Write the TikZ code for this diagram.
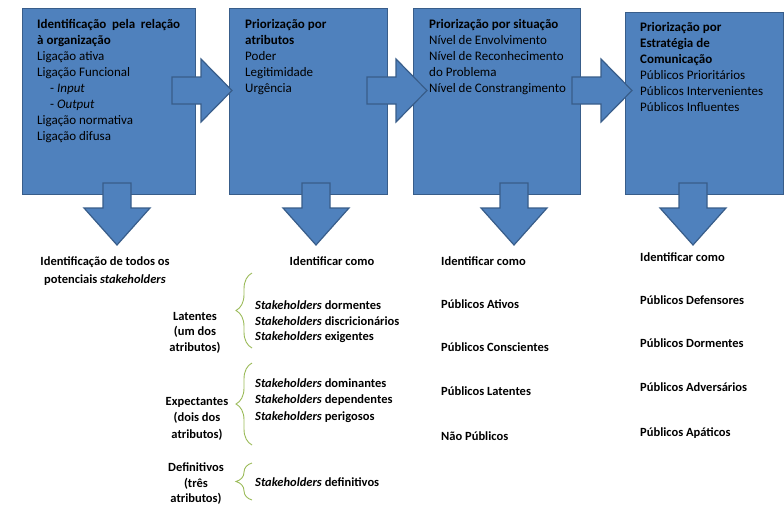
\documentclass[tikz,border=0pt]{standalone}
\usepackage{fontspec}
\setmainfont{Carlito}
\usetikzlibrary{positioning,decorations.pathreplacing}
\definecolor{boxblue}{RGB}{79,129,189}
\definecolor{boxedge}{RGB}{56,93,138}
\definecolor{bracegreen}{RGB}{155,187,89}

\begin{document}
\begin{tikzpicture}[x=1pt, y=-1pt,
    bluebox/.style={draw=boxedge, fill=boxblue, line width=1.2pt, inner sep=0pt, anchor=north west},
    boxtext/.style={inner sep=0pt, align=left, font=\fontsize{13}{16}\selectfont},
    blockarrow/.style={draw=boxedge, fill=boxblue, line width=1.2pt, line join=miter},
    lowtext/.style={inner sep=0pt, font=\fontsize{12.5}{15.5}\selectfont\bfseries},
    curly/.style={draw=bracegreen, line width=0.9pt, decorate, decoration={brace, amplitude=16pt}}]

\useasboundingbox (0,0) rectangle (784,507);

% caixas
\node[bluebox, minimum width=173pt, minimum height=186pt] (ident) at (22,8) {};
\node[bluebox, minimum width=158pt, minimum height=186pt] (atrib) at (229,8) {};
\node[bluebox, minimum width=167pt, minimum height=186pt] (situ) at (413,8) {};
\node[bluebox, minimum width=158pt, minimum height=182pt] (estr) at (625,12) {};

% textos das caixas
\node[boxtext, text width=143pt, align=justify, below right=11pt and 15pt of ident.north west] (identtxt)
  {\textbf{Identificação pela relação à organização}\\ Ligação ativa\\ Ligação Funcional\\
   \hspace*{13pt}- \textit{Input}\\ \hspace*{13pt}- \textit{Output}\\ Ligação normativa\\ Ligação difusa};
\node[boxtext, below right=11pt and 16pt of atrib.north west] (atribtxt)
  {\textbf{Priorização por}\\ \textbf{atributos}\\ Poder\\ Legitimidade\\ Urgência};
\node[boxtext, below right=11pt and 16pt of situ.north west] (situtxt)
  {\textbf{Priorização por situação}\\ Nível de Envolvimento\\ Nível de Reconhecimento\\ do Problema\\ Nível de Constrangimento};
\node[boxtext, below right=10pt and 15pt of estr.north west] (estrtxt)
  {\textbf{Priorização por}\\ \textbf{Estratégia de}\\ \textbf{Comunicação}\\ Públicos Prioritários\\ Públicos Intervenientes\\ Públicos Influentes};

% setas para a direita
\foreach \sx/\tx in {172/232, 367/427, 572/632}
  \draw[blockarrow] (\sx,77) -- ({\tx-31},77) -- ({\tx-31},59) -- (\tx,90.5)
    -- ({\tx-31},122) -- ({\tx-31},104) -- (\sx,104) -- cycle;

% setas para baixo
\foreach \c in {117,316,514,693}
  \draw[blockarrow] ({\c-14},183) -- ({\c+14},183) -- ({\c+14},208) -- ({\c+33},208)
    -- (\c,245) -- ({\c-33},208) -- ({\c-14},208) -- cycle;

% textos de baixo
\node[lowtext, align=center, anchor=north] (todos) at (105,257)
  {Identificação de todos os\\[2.5pt] potenciais \textit{stakeholders}};
\node[lowtext, anchor=base] (como2) at (332,265) {Identificar como};
\node[lowtext, anchor=base west] (como3) at (441,265) {Identificar como};
\node[lowtext, anchor=base west] (como4) at (640,261) {Identificar como};

\foreach \y/\t [count=\i] in {308/Públicos Ativos, 351/Públicos Conscientes, 395/Públicos Latentes, 440/Não Públicos}
  \node[lowtext, anchor=base west] (sit\i) at (441,\y) {\t};
\foreach \y/\t [count=\i] in {304/Públicos Defensores, 347/Públicos Dormentes, 391/Públicos Adversários, 436/Públicos Apáticos}
  \node[lowtext, anchor=base west] (com\i) at (640,\y) {\t};

% grupos de atributos
\node[lowtext, align=center, anchor=north] (latentes) at (195,312) {Latentes\\ (um dos\\ atributos)};
\node[lowtext, align=center, anchor=north] (expect) at (197,397) {Expectantes\\[1pt] (dois dos\\[1pt] atributos)};
\node[lowtext, align=center, anchor=north] (defin) at (196,463) {Definitivos\\ (três\\ atributos)};

\draw[curly] (252,348) -- (252,273);
\draw[curly] (252,445) -- (252,363);
\draw[curly] (252,500) -- (252,463);

\foreach \y/\t [count=\i] in {309/dormentes, 325/discricionários, 340/exigentes}
  \node[lowtext, anchor=base west] (lat\i) at (255,\y) {\textit{Stakeholders} \t};
\foreach \y/\t [count=\i] in {387/dominantes, 403.5/dependentes, 420/perigosos}
  \node[lowtext, anchor=base west] (exp\i) at (255,\y) {\textit{Stakeholders} \t};
\node[lowtext, anchor=base west] (def1) at (255,486) {\textit{Stakeholders} definitivos};
\end{tikzpicture}
\end{document}
